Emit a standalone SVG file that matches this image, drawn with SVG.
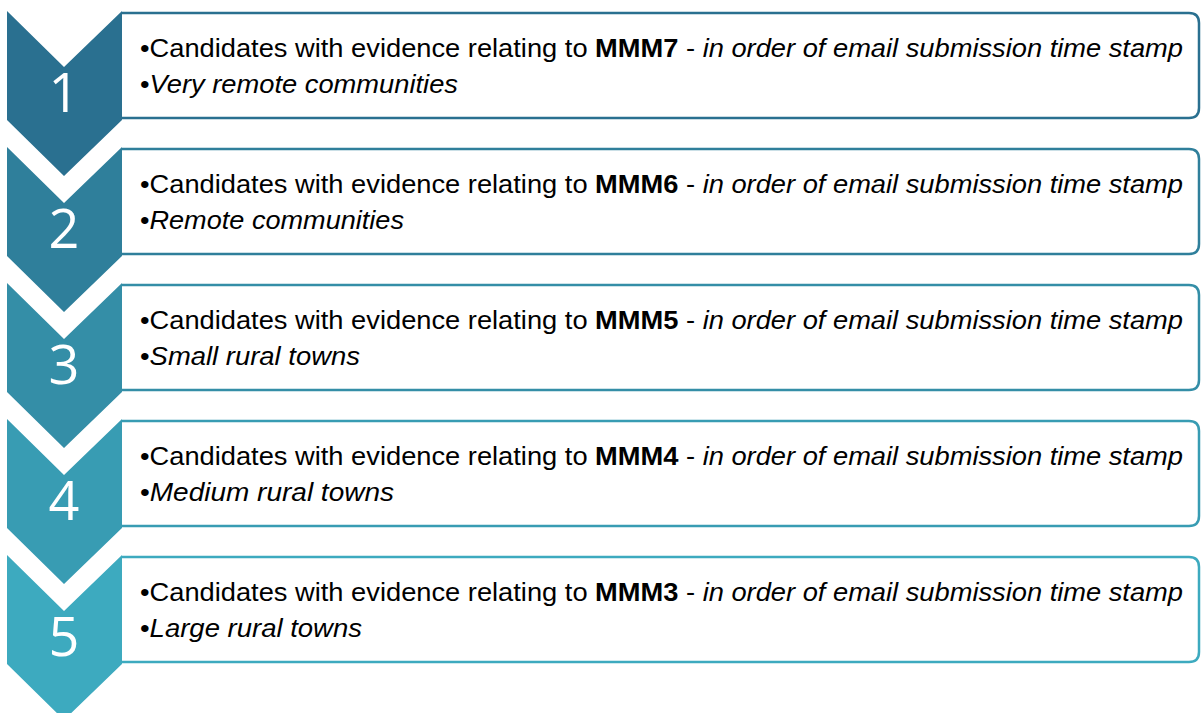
<svg xmlns="http://www.w3.org/2000/svg" width="1201" height="713" viewBox="0 0 1201 713">
<style>
.box{fill:#fff;stroke-width:2.5}
.num{font-family:"Open Sans","Liberation Sans",sans-serif;font-weight:400;font-size:54px;fill:#fff;text-anchor:middle}
.t{font-family:"Liberation Sans",Arial,sans-serif;font-size:26px;fill:#000}
.b{font-weight:bold}
.i{font-style:italic}
</style>
<g id="connectors"></g>
<g id="step1">
<path class="box" stroke="#2A7090" d="M122,13 H1189 Q1199,13 1199,23 V108 Q1199,118 1189,118 H122"/>
<polygon fill="#2A7090" points="7,11 64,67 122,11 122,120 64,176 7,120"/>
<text class="num" x="64" y="112">1</text>
<text class="t" x="140" y="57" textLength="1043" lengthAdjust="spacingAndGlyphs">•Candidates with evidence relating to <tspan class="b">MMM7</tspan> - <tspan class="i">in order of email submission time stamp</tspan></text>
<text class="t" x="140" y="93" textLength="318" lengthAdjust="spacingAndGlyphs">•<tspan class="i">Very remote communities</tspan></text>
</g>
<g id="step2">
<path class="box" stroke="#2F7F9B" d="M122,149 H1189 Q1199,149 1199,159 V244 Q1199,254 1189,254 H122"/>
<polygon fill="#2F7F9B" points="7,147 64,203 122,147 122,256 64,312 7,256"/>
<text class="num" x="64" y="248">2</text>
<text class="t" x="140" y="193" textLength="1043" lengthAdjust="spacingAndGlyphs">•Candidates with evidence relating to <tspan class="b">MMM6</tspan> - <tspan class="i">in order of email submission time stamp</tspan></text>
<text class="t" x="140" y="229" textLength="264" lengthAdjust="spacingAndGlyphs">•<tspan class="i">Remote communities</tspan></text>
</g>
<g id="step3">
<path class="box" stroke="#348EA7" d="M122,285 H1189 Q1199,285 1199,295 V380 Q1199,390 1189,390 H122"/>
<polygon fill="#348EA7" points="7,283 64,339 122,283 122,392 64,448 7,392"/>
<text class="num" x="64" y="384">3</text>
<text class="t" x="140" y="329" textLength="1043" lengthAdjust="spacingAndGlyphs">•Candidates with evidence relating to <tspan class="b">MMM5</tspan> - <tspan class="i">in order of email submission time stamp</tspan></text>
<text class="t" x="140" y="365" textLength="220" lengthAdjust="spacingAndGlyphs">•<tspan class="i">Small rural towns</tspan></text>
</g>
<g id="step4">
<path class="box" stroke="#389CB3" d="M122,421 H1189 Q1199,421 1199,431 V516 Q1199,526 1189,526 H122"/>
<polygon fill="#389CB3" points="7,419 64,475 122,419 122,528 64,584 7,528"/>
<text class="num" x="64" y="520">4</text>
<text class="t" x="140" y="465" textLength="1043" lengthAdjust="spacingAndGlyphs">•Candidates with evidence relating to <tspan class="b">MMM4</tspan> - <tspan class="i">in order of email submission time stamp</tspan></text>
<text class="t" x="140" y="501" textLength="254" lengthAdjust="spacingAndGlyphs">•<tspan class="i">Medium rural towns</tspan></text>
</g>
<g id="step5">
<path class="box" stroke="#3DAABF" d="M122,557 H1189 Q1199,557 1199,567 V652 Q1199,662 1189,662 H122"/>
<polygon fill="#3DAABF" points="7,555 64,611 122,555 122,664 64,720 7,664"/>
<text class="num" x="64" y="656">5</text>
<text class="t" x="140" y="601" textLength="1043" lengthAdjust="spacingAndGlyphs">•Candidates with evidence relating to <tspan class="b">MMM3</tspan> - <tspan class="i">in order of email submission time stamp</tspan></text>
<text class="t" x="140" y="637" textLength="222" lengthAdjust="spacingAndGlyphs">•<tspan class="i">Large rural towns</tspan></text>
</g>
</svg>
